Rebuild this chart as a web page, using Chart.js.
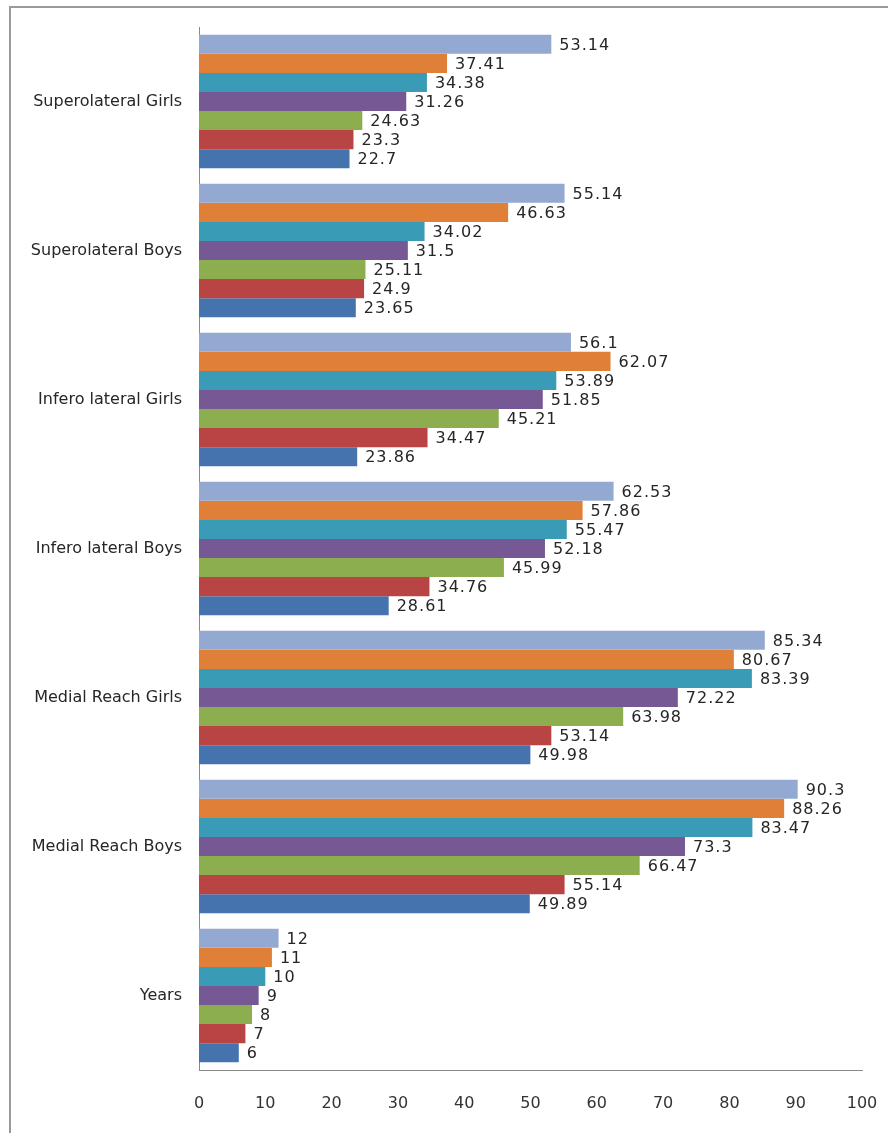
<!DOCTYPE html>
<html>
<head>
<meta charset="utf-8">
<script src="https://cdn.jsdelivr.net/npm/chart.js@4/dist/chart.umd.min.js"></script>
<style>
  html, body { margin: 0; padding: 0; background: #fff; }
  #wrap { position: relative; width: 888px; height: 1133px; overflow: hidden; }
  #frame { position: absolute; left: 9px; top: 6px; width: 900px; height: 1140px;
           border-left: 2px solid #9a9a9a; border-top: 2px solid #9a9a9a; }
  canvas { position: absolute; left: 0; top: 0; }
</style>
</head>
<body>
<div id="wrap">
  <div id="frame"></div>
  <canvas id="chart" width="888" height="1133"></canvas>
</div>
<script>
// categories, top to bottom
const categories = [
  'Superolateral Girls', 'Superolateral Boys', 'Infero lateral Girls',
  'Infero lateral Boys', 'Medial Reach Girls', 'Medial Reach Boys', 'Years'
];

// one series per age, drawn top to bottom in each group
const age12 = [53.14, 55.14, 56.1, 62.53, 85.34, 90.3, 12];
const age11 = [37.41, 46.63, 62.07, 57.86, 80.67, 88.26, 11];
const age10 = [34.38, 34.02, 53.89, 55.47, 83.39, 83.47, 10];
const age9  = [31.26, 31.5, 51.85, 52.18, 72.22, 73.3, 9];
const age8  = [24.63, 25.11, 45.21, 45.99, 63.98, 66.47, 8];
const age7  = [23.3, 24.9, 34.47, 34.76, 53.14, 55.14, 7];
const age6  = [22.7, 23.65, 23.86, 28.61, 49.98, 49.89, 6];

const xTicks = [0, 10, 20, 30, 40, 50, 60, 70, 80, 90, 100];

const series = [
  { label: '12', data: age12, color: '#93a9d2' },
  { label: '11', data: age11, color: '#e07f38' },
  { label: '10', data: age10, color: '#3a9bb6' },
  { label: '9',  data: age9,  color: '#765894' },
  { label: '8',  data: age8,  color: '#8dae4f' },
  { label: '7',  data: age7,  color: '#b84543' },
  { label: '6',  data: age6,  color: '#4573ae' }
];

const valueLabels = {
  id: 'valueLabels',
  afterDatasetsDraw(chart) {
    const ctx = chart.ctx;
    ctx.save();
    ctx.font = '16px "DejaVu Sans"';
    ctx.letterSpacing = '1px';
    ctx.fillStyle = '#262626';
    ctx.textAlign = 'left';
    ctx.textBaseline = 'middle';
    chart.data.datasets.forEach((ds, i) => {
      chart.getDatasetMeta(i).data.forEach((bar, j) => {
        ctx.fillText(String(ds.data[j]), bar.x + 8, bar.y + 1);
      });
    });
    ctx.restore();
  }
};

new Chart(document.getElementById('chart').getContext('2d'), {
  type: 'bar',
  data: {
    labels: categories,
    datasets: series.map(s => ({
      label: s.label,
      data: s.data,
      backgroundColor: s.color,
      borderWidth: 0,
      barPercentage: 1,
      categoryPercentage: 0.895
    }))
  },
  options: {
    indexAxis: 'y',
    responsive: false,
    animation: false,
    layout: { padding: { left: 0, right: 26, top: 27, bottom: 0 } },
    plugins: { legend: { display: false }, tooltip: { enabled: false } },
    scales: {
      x: {
        min: 0,
        max: 100,
        afterBuildTicks: (scale) => { scale.ticks = xTicks.map(v => ({ value: v })); },
        afterFit: (scale) => { scale.height = 63; scale.paddingRight = 0; scale.paddingLeft = 0; },
        grid: { display: false, drawTicks: false },
        border: { display: true, color: '#8a8a8a', width: 1 },
        ticks: { padding: 24, color: '#333', font: { family: 'DejaVu Sans', size: 16 } }
      },
      y: {
        afterFit: (scale) => { scale.width = 199; },
        grid: { display: false, drawTicks: false },
        border: { display: true, color: '#8a8a8a', width: 1 },
        ticks: { padding: 17, color: '#262626', font: { family: 'DejaVu Sans', size: 16 } }
      }
    }
  },
  plugins: [valueLabels]
});
</script>
</body>
</html>
